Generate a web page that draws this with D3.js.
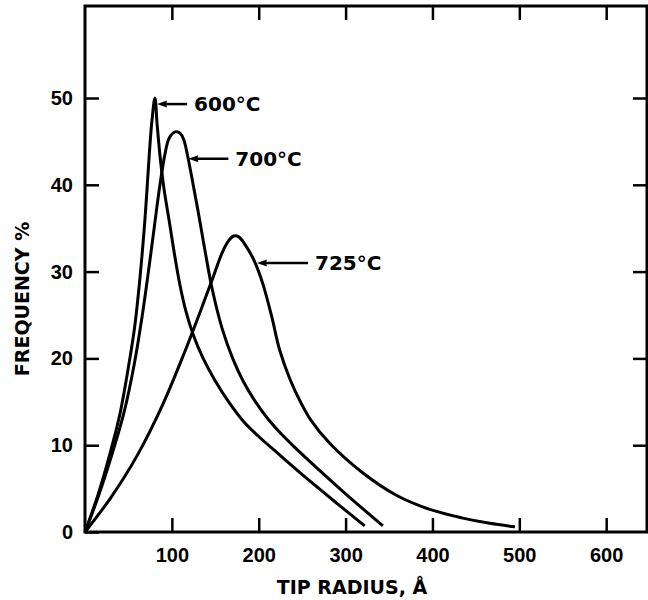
<!DOCTYPE html>
<html>
<head>
<meta charset="utf-8">
<script src="https://cdn.jsdelivr.net/npm/d3@7"></script>
<style>
  body { margin: 0; background: #fff; }
  svg { display: block; }
</style>
</head>
<body>
<div id="chart"></div>
<script>
// values (tip radius in angstrom, frequency in %)
var r600 = [0, 15, 30, 40, 50, 57, 63, 69, 74, 77, 80.5, 83, 86.5, 91, 97, 103, 109, 116, 125, 136, 150, 166, 182, 200, 225, 255, 290, 322];
var f600 = [0, 4.3, 9.5, 13.5, 19, 23.5, 29, 36, 43.5, 47.3, 50, 47, 43.2, 39.5, 35.8, 32, 28.6, 25.5, 22.6, 20, 17.4, 14.9, 12.8, 11, 8.8, 6.2, 3.3, 0.7];

var r700 = [0, 15, 30, 45, 57, 66, 73, 80, 86, 92, 97, 104, 110, 114, 118, 124, 131, 138, 146, 158, 170, 182, 195, 210, 225, 240, 270, 300, 343];
var f700 = [0, 4.0, 8.6, 13.8, 19.5, 25, 30, 35.3, 39.8, 43.5, 45.4, 46.1, 45.9, 45.1, 43.4, 40.3, 36.5, 32.5, 28.2, 23.4, 20.0, 17.4, 15.2, 13.1, 11.4, 9.9, 7.1, 4.4, 0.7];

var r725 = [0, 30, 60, 90, 115, 135, 148, 158, 165, 171, 177, 185, 195, 205, 215, 224, 236, 248, 260, 282, 320, 359, 397, 435, 466, 495];
var f725 = [0, 4.0, 8.8, 14.8, 20.8, 26, 29.5, 32.2, 33.5, 34.1, 34, 33, 31.2, 28.5, 24.8, 21, 17.6, 15, 12.9, 10.2, 6.8, 4.2, 2.6, 1.6, 1.0, 0.6];

var seriesNames = ["600°C", "700°C", "725°C"];
// where each label's arrow touches its curve
var labelR = [83, 119, 198];
var labelF = [49.3, 43, 31];

var xTicks = [100, 200, 300, 400, 500, 600];
var yTicks = [0, 10, 20, 30, 40, 50];
var xMax = 647, yMax = 60.6;

var width = 648, height = 600;
var mLeft = 85, mRight = 647, mTop = 6, mBottom = 532;

var svg = d3.select("#chart").append("svg")
  .attr("width", width)
  .attr("height", height)
  .style("font-family", "'DejaVu Sans', sans-serif")
  .style("font-weight", "bold");

var x = d3.scaleLinear().domain([0, xMax]).range([mLeft, mRight]);
var y = d3.scaleLinear().domain([0, yMax]).range([mBottom, mTop]);

// frame
svg.append("rect")
  .attr("x", mLeft).attr("y", mTop)
  .attr("width", mRight - mLeft).attr("height", mBottom - mTop)
  .attr("fill", "none").attr("stroke", "#000").attr("stroke-width", 3);

function cleanAxis(g) {
  g.select(".domain").remove();
  g.selectAll(".tick line").attr("stroke", "#000").attr("stroke-width", 2.5);
  g.selectAll(".tick text").attr("fill", "#000");
}

svg.append("g")
  .attr("transform", `translate(0,${mBottom})`)
  .call(d3.axisBottom(x).tickValues(xTicks).tickSizeInner(-14).tickSizeOuter(0).tickPadding(16))
  .call(cleanAxis)
  .style("font-size", "20px")
  .style("font-family", null);

svg.append("g")
  .attr("transform", `translate(0,${mTop})`)
  .call(d3.axisTop(x).tickValues(xTicks).tickSizeInner(-14).tickSizeOuter(0).tickFormat(""))
  .call(cleanAxis);

svg.append("g")
  .attr("transform", `translate(${mLeft},0)`)
  .call(d3.axisLeft(y).tickValues(yTicks).tickSizeInner(-14).tickSizeOuter(0).tickPadding(12))
  .call(cleanAxis)
  .style("font-size", "20px")
  .style("font-family", null);

svg.append("g")
  .attr("transform", `translate(${mRight},0)`)
  .call(d3.axisRight(y).tickValues(yTicks.slice(1)).tickSizeInner(-14).tickSizeOuter(0).tickFormat(""))
  .call(cleanAxis);

// axis titles
svg.append("text")
  .attr("x", 352).attr("y", 594)
  .attr("text-anchor", "middle")
  .style("font-size", "19px")
  .text("TIP RADIUS, Å");

svg.append("text")
  .attr("transform", "translate(29,299) rotate(-90)")
  .attr("text-anchor", "middle")
  .style("font-size", "19px")
  .text("FREQUENCY %");

// curves
var line = d3.line()
  .x(d => x(d[0]))
  .y(d => y(d[1]))
  .curve(d3.curveCatmullRom.alpha(0.5));

var series = [
  d3.zip(r600, f600),
  d3.zip(r700, f700),
  d3.zip(r725, f725)
];

svg.append("g")
  .attr("fill", "none")
  .attr("stroke", "#000")
  .attr("stroke-width", 3)
  .attr("stroke-linejoin", "round")
  .selectAll("path")
  .data(series)
  .join("path")
  .attr("d", line);

// labels with arrows
var arrowLen = [30, 40, 51];
var labels = svg.append("g")
  .selectAll("g")
  .data(seriesNames)
  .join("g")
  .attr("transform", (d, i) => `translate(${x(labelR[i])},${y(labelF[i])})`);

labels.append("line")
  .attr("x1", 4).attr("y1", 0)
  .attr("x2", (d, i) => arrowLen[i]).attr("y2", 0)
  .attr("stroke", "#000").attr("stroke-width", 2.5);

labels.append("path")
  .attr("d", "M0,0L10,-3.5L9,0L10,3.5Z")
  .attr("fill", "#000");

labels.append("text")
  .attr("x", (d, i) => arrowLen[i] + 7)
  .attr("dy", "0.36em")
  .style("font-size", "20px")
  .text(d => d);
</script>
</body>
</html>
